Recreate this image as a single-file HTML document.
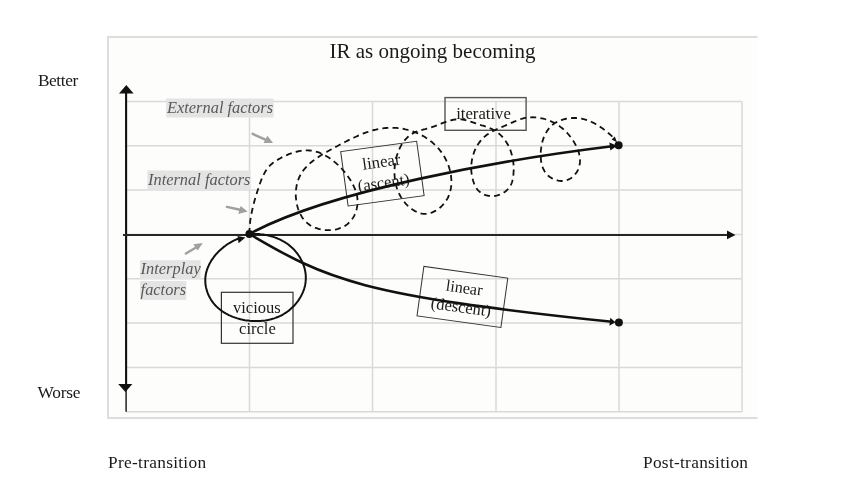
<!DOCTYPE html>
<html><head><meta charset="utf-8"><style>
html,body{margin:0;padding:0;background:#fff;width:841px;height:490px;overflow:hidden}
svg{display:block;will-change:transform}
text{font-family:"Liberation Serif",serif}
</style></head><body>
<svg width="841" height="490" viewBox="0 0 841 490">
<rect x="107" y="36" width="650" height="383" fill="#fdfdfc"/>
<path d="M108,419 V37 H757.5" fill="none" stroke="#dddddd" stroke-width="2"/>
<line x1="107" y1="418" x2="757.5" y2="418" stroke="#dddddd" stroke-width="2"/>
<g stroke="#d9d9d9" stroke-width="1.5"><line x1="249.5" y1="101.5" x2="249.5" y2="411.7"/><line x1="372.5" y1="101.5" x2="372.5" y2="411.7"/><line x1="496" y1="101.5" x2="496" y2="411.7"/><line x1="619" y1="101.5" x2="619" y2="411.7"/><line x1="742" y1="101.5" x2="742" y2="411.7"/><line x1="126" y1="101.5" x2="742" y2="101.5"/><line x1="126" y1="145.8" x2="742" y2="145.8"/><line x1="126" y1="190.1" x2="742" y2="190.1"/><line x1="126" y1="234.5" x2="742" y2="234.5"/><line x1="126" y1="278.8" x2="742" y2="278.8"/><line x1="126" y1="323.0" x2="742" y2="323.0"/><line x1="126" y1="367.4" x2="742" y2="367.4"/><line x1="126" y1="411.7" x2="742" y2="411.7"/></g>
<text x="329.5" y="58.1" font-size="21" fill="#1a1a1a">IR as ongoing becoming</text>
<text x="37.9" y="85.8" font-size="17.33" letter-spacing="-0.4" fill="#1a1a1a">Better</text>
<text x="37.5" y="397.5" font-size="17.33" letter-spacing="-0.2" fill="#1a1a1a">Worse</text>
<text x="108" y="467.8" font-size="17.33" letter-spacing="0.29" fill="#1a1a1a">Pre-transition</text>
<text x="643" y="467.9" font-size="17.33" letter-spacing="0.28" fill="#1a1a1a">Post-transition</text>
<!-- y axis -->
<line x1="126.1" y1="92" x2="126.1" y2="386" stroke="#111" stroke-width="2.1"/>
<line x1="126.1" y1="390" x2="126.1" y2="411.7" stroke="#111" stroke-width="1.4"/>
<polygon points="126.3,85 119,93.5 133.6,93.5" fill="#111"/>
<polygon points="118.2,384 132.4,384 125.4,392" fill="#111"/>
<!-- x axis -->
<line x1="123" y1="235" x2="729" y2="235" stroke="#262626" stroke-width="2"/>
<polygon points="727,230.5 735.5,235 727,239.3" fill="#111"/>
<!-- labels with bg -->
<rect x="166.2" y="98.5" width="107.4" height="19" fill="#e4e4e4"/>
<text x="167" y="112.9" font-size="16.4" font-style="italic" fill="#595959">External factors</text>
<rect x="147.4" y="170.5" width="103.3" height="19.6" fill="#e4e4e4"/>
<text x="148" y="185" font-size="16.4" font-style="italic" fill="#595959">Internal factors</text>
<rect x="140.1" y="260.2" width="60.5" height="18.8" fill="#e4e4e4"/>
<text x="140.6" y="274.4" font-size="16.4" font-style="italic" fill="#595959">Interplay</text>
<rect x="140.1" y="281" width="46.2" height="18.9" fill="#e4e4e4"/>
<text x="140.6" y="295.3" font-size="16.4" font-style="italic" fill="#595959">factors</text>
<!-- gray arrows -->
<g stroke="#a0a0a0" stroke-width="2.5" stroke-linecap="round" fill="#a0a0a0">
<line x1="252.6" y1="133.9" x2="266" y2="139.8"/>
<line x1="226.9" y1="206.9" x2="240" y2="209.8"/>
<line x1="185.9" y1="253.5" x2="196" y2="247.5"/>
</g>
<g fill="#a0a0a0">
<polygon points="273.1,143.1 267.4,135.7 263.6,143.1"/>
<polygon points="247.6,211.5 240.6,206.1 238.2,213.9"/>
<polygon points="202.8,243.1 193.4,244.3 197.6,250.5"/>
</g>
<!-- boxes -->
<rect x="221.4" y="292.3" width="71.6" height="51" fill="none" stroke="#333" stroke-width="1.2"/>
<text x="233" y="313.1" font-size="16.5" fill="#1a1a1a">vicious</text>
<text x="239.1" y="333.9" font-size="16.5" fill="#1a1a1a">circle</text>
<rect x="445" y="97.6" width="81.1" height="32.7" fill="none" stroke="#555" stroke-width="1.4"/>
<text x="456.2" y="118.5" font-size="16.7" fill="#1a1a1a">iterative</text>
<g transform="translate(382.4,173.65) rotate(-7.8)">
<rect x="-38.35" y="-27.45" width="76.7" height="54.9" fill="none" stroke="#333" stroke-width="1"/>
<text x="0.5" y="-6.6" font-size="16.8" text-anchor="middle" fill="#1a1a1a">linear</text>
<text x="0" y="14.3" font-size="16.5" text-anchor="middle" fill="#1a1a1a">(ascent)</text>
</g>
<g transform="translate(462.4,296.95) rotate(7.94)">
<rect x="-42.35" y="-24.95" width="84.7" height="49.9" fill="none" stroke="#333" stroke-width="1"/>
<text x="0.6" y="-4" font-size="16.2" text-anchor="middle" fill="#1a1a1a">linear</text>
<text x="0" y="15.5" font-size="16.5" text-anchor="middle" fill="#1a1a1a">(descent)</text>
</g>
<!-- curves -->
<path d="M249.3,234.0 L249.3,232.5 L249.4,230.9 L249.5,229.4 L249.6,227.9 L249.7,226.4 L249.8,224.9 L250.0,223.4 L250.1,221.9 L250.3,220.4 L250.5,218.9 L250.8,217.5 L251.0,216.0 L251.3,214.5 L251.6,213.1 L251.9,211.6 L252.2,210.2 L252.5,208.7 L252.8,207.3 L253.2,205.8 L253.5,204.4 L253.9,203.0 L254.3,201.5 L254.7,200.1 L255.1,198.7 L255.5,197.2 L256.0,195.8 L256.4,194.3 L256.9,192.9 L257.3,191.5 L257.8,190.0 L258.3,188.6 L258.7,187.1 L259.2,185.7 L259.7,184.2 L260.2,182.8 L260.8,181.3 L261.3,179.9 L261.9,178.5 L262.5,177.1 L263.1,175.7 L263.8,174.4 L264.5,173.1 L265.2,171.8 L266.0,170.5 L266.8,169.3 L267.7,168.2 L268.6,167.0 L269.6,166.0 L270.6,164.9 L271.7,164.0 L272.8,163.0 L274.0,162.1 L275.2,161.3 L276.5,160.5 L277.8,159.7 L279.1,158.9 L280.4,158.2 L281.8,157.4 L283.2,156.7 L284.5,156.1 L285.9,155.4 L287.4,154.8 L288.8,154.2 L290.2,153.7 L291.7,153.1 L293.1,152.7 L294.6,152.2 L296.1,151.8 L297.5,151.5 L299.0,151.2 L300.5,150.9 L302.0,150.7 L303.5,150.5 L305.0,150.4 L306.4,150.4 L307.9,150.4 L309.4,150.5 L310.8,150.6 L312.3,150.8 L313.7,151.1 L315.1,151.4 L316.6,151.8 L318.0,152.2 L319.4,152.7 L320.7,153.3 L322.1,153.9 L323.5,154.6 L324.8,155.3 L326.1,156.0 L327.4,156.8 L328.7,157.6 L330.0,158.4 L331.2,159.3 L332.4,160.2 L333.6,161.2 L334.8,162.1 L336.0,163.1 L337.1,164.1 L338.2,165.1 L339.3,166.2 L340.4,167.3 L341.4,168.3 L342.4,169.5 L343.4,170.6 L344.4,171.7 L345.3,172.9 L346.2,174.1 L347.1,175.3 L348.0,176.5 L348.8,177.7 L349.7,179.0 L350.5,180.3 L351.2,181.6 L352.0,182.9 L352.7,184.2 L353.4,185.5 L354.0,186.9 L354.6,188.2 L355.2,189.6 L355.7,191.0 L356.2,192.5 L356.6,193.9 L356.9,195.3 L357.2,196.8 L357.4,198.3 L357.5,199.8 L357.6,201.3 L357.6,202.9 L357.5,204.4 L357.3,205.9 L357.0,207.4 L356.7,208.9 L356.3,210.4 L355.8,211.9 L355.3,213.3 L354.7,214.7 L354.0,216.1 L353.3,217.4 L352.4,218.7 L351.6,219.9 L350.6,221.1 L349.6,222.2 L348.5,223.2 L347.4,224.2 L346.2,225.0 L344.9,225.9 L343.6,226.6 L342.3,227.3 L340.9,227.9 L339.4,228.4 L338.0,228.9 L336.5,229.3 L335.0,229.6 L333.4,229.8 L331.9,230.0 L330.3,230.2 L328.7,230.2 L327.2,230.2 L325.6,230.1 L324.0,230.0 L322.5,229.7 L320.9,229.5 L319.4,229.1 L317.9,228.7 L316.5,228.2 L315.0,227.7 L313.6,227.1 L312.3,226.4 L310.9,225.7 L309.7,224.9 L308.5,224.0 L307.3,223.1 L306.2,222.1 L305.2,221.1 L304.2,220.0 L303.3,218.9 L302.4,217.7 L301.6,216.4 L300.9,215.1 L300.2,213.8 L299.6,212.5 L299.0,211.1 L298.4,209.6 L297.9,208.2 L297.5,206.7 L297.1,205.2 L296.8,203.7 L296.5,202.2 L296.2,200.7 L296.1,199.1 L295.9,197.6 L295.8,196.0 L295.8,194.5 L295.8,192.9 L295.9,191.4 L296.0,189.8 L296.2,188.3 L296.4,186.8 L296.7,185.3 L297.0,183.8 L297.4,182.3 L297.9,180.9 L298.4,179.5 L298.9,178.1 L299.5,176.7 L300.2,175.4 L300.9,174.1 L301.7,172.8 L302.5,171.6 L303.3,170.4 L304.2,169.3 L305.2,168.2 L306.2,167.1 L307.2,166.0 L308.3,165.0 L309.4,163.9 L310.5,162.9 L311.6,162.0 L312.8,161.0 L314.0,160.1 L315.2,159.2 L316.4,158.3 L317.7,157.5 L318.9,156.7 L320.2,155.8 L321.5,155.0 L322.8,154.2 L324.0,153.5 L325.3,152.7 L326.6,152.0 L327.9,151.2 L329.2,150.5 L330.5,149.8 L331.8,149.1 L333.1,148.4 L334.4,147.6 L335.7,146.9 L337.1,146.2 L338.4,145.5 L339.7,144.8 L341.0,144.1 L342.4,143.4 L343.7,142.7 L345.0,142.0 L346.4,141.3 L347.7,140.6 L349.1,139.9 L350.5,139.3 L351.8,138.6 L353.2,137.9 L354.6,137.3 L355.9,136.7 L357.3,136.1 L358.7,135.4 L360.1,134.9 L361.5,134.3 L362.9,133.7 L364.3,133.2 L365.7,132.7 L367.1,132.2 L368.5,131.7 L369.9,131.3 L371.4,130.8 L372.8,130.4 L374.2,130.0 L375.7,129.7 L377.1,129.3 L378.6,129.0 L380.0,128.8 L381.5,128.5 L382.9,128.3 L384.4,128.1 L385.9,128.0 L387.4,127.9 L388.8,127.8 L390.3,127.7 L391.8,127.7 L393.3,127.8 L394.8,127.8 L396.3,127.9 L397.8,128.1 L399.3,128.2 L400.8,128.4 L402.3,128.7 L403.8,128.9 L405.3,129.3 L406.7,129.6 L408.2,130.0 L409.7,130.4 L411.1,130.8 L412.6,131.3 L414.0,131.8 L415.4,132.4 L416.8,132.9 L418.2,133.5 L419.6,134.2 L420.9,134.9 L422.3,135.6 L423.6,136.3 L424.9,137.1 L426.2,137.9 L427.4,138.7 L428.7,139.6 L429.9,140.4 L431.0,141.4 L432.2,142.3 L433.3,143.3 L434.4,144.3 L435.5,145.3 L436.5,146.4 L437.6,147.5 L438.6,148.6 L439.5,149.8 L440.4,150.9 L441.3,152.1 L442.2,153.3 L443.0,154.6 L443.8,155.9 L444.6,157.1 L445.3,158.5 L446.0,159.8 L446.6,161.2 L447.3,162.5 L447.8,163.9 L448.4,165.4 L448.9,166.8 L449.3,168.3 L449.8,169.7 L450.1,171.2 L450.5,172.7 L450.7,174.2 L451.0,175.7 L451.1,177.2 L451.3,178.7 L451.4,180.2 L451.4,181.7 L451.4,183.2 L451.3,184.7 L451.2,186.2 L451.0,187.7 L450.7,189.1 L450.4,190.6 L450.1,192.0 L449.6,193.4 L449.1,194.8 L448.6,196.2 L448.0,197.5 L447.3,198.9 L446.5,200.1 L445.7,201.4 L444.8,202.6 L443.8,203.8 L442.8,205.0 L441.7,206.1 L440.5,207.2 L439.3,208.2 L438.0,209.2 L436.6,210.1 L435.3,210.9 L433.8,211.6 L432.4,212.3 L430.9,212.8 L429.5,213.2 L428.0,213.6 L426.5,213.8 L425.0,213.8 L423.5,213.8 L422.0,213.6 L420.6,213.3 L419.2,212.9 L417.8,212.4 L416.4,211.7 L415.0,211.1 L413.7,210.3 L412.4,209.5 L411.1,208.6 L409.9,207.6 L408.8,206.6 L407.6,205.6 L406.6,204.5 L405.5,203.4 L404.6,202.3 L403.6,201.1 L402.8,199.9 L401.9,198.6 L401.1,197.4 L400.4,196.1 L399.7,194.8 L399.0,193.4 L398.4,192.0 L397.8,190.7 L397.3,189.3 L396.8,187.8 L396.4,186.4 L396.0,184.9 L395.7,183.5 L395.4,182.0 L395.1,180.5 L394.9,179.0 L394.7,177.5 L394.6,175.9 L394.5,174.4 L394.5,172.9 L394.5,171.3 L394.5,169.8 L394.6,168.3 L394.7,166.7 L394.9,165.2 L395.1,163.7 L395.3,162.2 L395.6,160.7 L396.0,159.2 L396.3,157.7 L396.7,156.2 L397.2,154.7 L397.7,153.3 L398.2,151.8 L398.7,150.4 L399.4,149.0 L400.0,147.7 L400.7,146.3 L401.4,145.0 L402.2,143.8 L403.0,142.5 L403.9,141.3 L404.8,140.2 L405.8,139.1 L406.8,138.0 L407.8,137.0 L408.9,136.1 L410.0,135.2 L411.2,134.4 L412.4,133.6 L413.7,132.9 L415.0,132.2 L416.4,131.7 L417.8,131.1 L419.3,130.7 L420.8,130.2 L422.3,129.8 L423.8,129.4 L425.3,129.1 L426.8,128.7 L428.3,128.3 L429.8,127.8 L431.2,127.4 L432.7,126.9 L434.1,126.4 L435.5,125.9 L436.9,125.3 L438.3,124.8 L439.7,124.2 L441.0,123.7 L442.4,123.1 L443.8,122.6 L445.2,122.1 L446.6,121.6 L448.0,121.1 L449.5,120.7 L450.9,120.3 L452.4,120.0 L453.9,119.7 L455.4,119.5 L456.8,119.3 L458.3,119.3 L459.8,119.3 L461.3,119.4 L462.7,119.6 L464.2,119.9 L465.6,120.2 L467.1,120.6 L468.5,121.0 L470.0,121.5 L471.4,121.9 L472.9,122.4 L474.3,122.9 L475.8,123.4 L477.2,123.9 L478.7,124.4 L480.1,124.8 L481.6,125.3 L483.1,125.7 L484.5,126.2 L485.9,126.7 L487.4,127.2 L488.8,127.7 L490.2,128.3 L491.5,128.9 L492.8,129.5 L494.1,130.3 L495.4,131.0 L496.7,131.9 L497.9,132.7 L499.0,133.7 L500.1,134.7 L501.2,135.7 L502.3,136.8 L503.2,137.9 L504.2,139.0 L505.1,140.2 L505.9,141.5 L506.7,142.7 L507.5,144.0 L508.2,145.3 L508.9,146.6 L509.5,148.0 L510.1,149.4 L510.6,150.8 L511.1,152.2 L511.5,153.7 L511.9,155.1 L512.3,156.6 L512.6,158.1 L512.9,159.6 L513.1,161.1 L513.3,162.6 L513.5,164.2 L513.6,165.7 L513.6,167.2 L513.7,168.7 L513.7,170.3 L513.6,171.8 L513.5,173.3 L513.4,174.8 L513.2,176.3 L513.0,177.8 L512.7,179.3 L512.4,180.7 L512.0,182.2 L511.5,183.5 L510.9,184.9 L510.2,186.2 L509.4,187.4 L508.5,188.6 L507.4,189.7 L506.3,190.8 L505.1,191.7 L503.8,192.6 L502.5,193.4 L501.1,194.1 L499.6,194.7 L498.1,195.2 L496.6,195.6 L495.0,195.9 L493.5,196.1 L491.9,196.1 L490.3,196.0 L488.8,195.8 L487.2,195.5 L485.7,195.1 L484.3,194.6 L482.9,193.9 L481.6,193.2 L480.3,192.3 L479.2,191.4 L478.1,190.3 L477.1,189.2 L476.3,188.0 L475.5,186.7 L474.8,185.3 L474.2,183.9 L473.7,182.5 L473.2,181.0 L472.8,179.6 L472.4,178.1 L472.1,176.6 L471.8,175.1 L471.6,173.7 L471.4,172.2 L471.3,170.7 L471.2,169.2 L471.2,167.7 L471.3,166.2 L471.3,164.7 L471.5,163.2 L471.7,161.7 L471.9,160.2 L472.2,158.7 L472.6,157.2 L473.0,155.7 L473.4,154.2 L473.9,152.7 L474.4,151.3 L475.0,149.9 L475.7,148.5 L476.4,147.2 L477.1,145.8 L477.9,144.5 L478.7,143.3 L479.6,142.1 L480.5,140.9 L481.4,139.7 L482.5,138.7 L483.5,137.6 L484.6,136.6 L485.7,135.7 L486.9,134.8 L488.1,134.0 L489.3,133.2 L490.6,132.4 L491.9,131.7 L493.2,131.0 L494.6,130.3 L495.9,129.6 L497.3,129.0 L498.7,128.4 L500.1,127.8 L501.5,127.2 L502.9,126.6 L504.3,126.0 L505.7,125.4 L507.1,124.8 L508.5,124.2 L509.9,123.5 L511.3,122.9 L512.7,122.3 L514.1,121.7 L515.5,121.1 L516.8,120.5 L518.2,120.0 L519.6,119.4 L521.0,119.0 L522.5,118.6 L523.9,118.2 L525.3,117.9 L526.8,117.6 L528.3,117.4 L529.8,117.3 L531.3,117.3 L532.8,117.2 L534.3,117.3 L535.8,117.4 L537.3,117.5 L538.8,117.7 L540.3,118.0 L541.8,118.3 L543.2,118.6 L544.7,119.0 L546.1,119.5 L547.5,119.9 L548.9,120.4 L550.3,121.0 L551.6,121.6 L552.9,122.2 L554.3,122.9 L555.5,123.6 L556.8,124.4 L558.0,125.2 L559.3,126.0 L560.4,126.9 L561.6,127.8 L562.8,128.7 L563.9,129.7 L565.0,130.7 L566.0,131.8 L567.1,132.8 L568.1,134.0 L569.1,135.1 L570.0,136.3 L571.0,137.5 L571.9,138.8 L572.8,140.1 L573.6,141.4 L574.4,142.7 L575.2,144.1 L575.9,145.5 L576.6,146.9 L577.2,148.3 L577.8,149.7 L578.3,151.2 L578.8,152.6 L579.2,154.1 L579.5,155.6 L579.7,157.1 L579.9,158.5 L580.0,160.0 L580.0,161.4 L579.9,162.9 L579.7,164.3 L579.4,165.7 L579.1,167.1 L578.6,168.5 L578.0,169.9 L577.3,171.2 L576.5,172.4 L575.6,173.7 L574.6,174.8 L573.6,175.9 L572.5,176.9 L571.3,177.9 L570.0,178.7 L568.7,179.4 L567.3,180.0 L565.9,180.5 L564.4,180.8 L562.9,181.0 L561.3,181.0 L559.8,180.9 L558.2,180.6 L556.6,180.2 L555.1,179.7 L553.6,179.1 L552.1,178.4 L550.8,177.5 L549.5,176.7 L548.3,175.7 L547.2,174.7 L546.2,173.6 L545.4,172.4 L544.6,171.3 L543.9,170.0 L543.2,168.7 L542.7,167.4 L542.2,166.0 L541.8,164.7 L541.5,163.2 L541.2,161.8 L541.0,160.3 L540.9,158.8 L540.8,157.3 L540.7,155.7 L540.7,154.2 L540.7,152.6 L540.8,151.1 L541.0,149.5 L541.2,148.0 L541.4,146.4 L541.7,144.9 L542.0,143.3 L542.4,141.8 L542.8,140.3 L543.3,138.9 L543.8,137.4 L544.4,136.0 L545.0,134.7 L545.7,133.3 L546.5,132.0 L547.2,130.8 L548.1,129.6 L549.0,128.4 L549.9,127.3 L550.9,126.3 L552.0,125.3 L553.1,124.4 L554.2,123.5 L555.4,122.8 L556.7,122.1 L558.0,121.4 L559.4,120.8 L560.8,120.3 L562.2,119.8 L563.6,119.4 L565.1,119.0 L566.6,118.7 L568.2,118.5 L569.7,118.2 L571.2,118.1 L572.8,118.0 L574.3,118.0 L575.8,118.0 L577.3,118.1 L578.8,118.2 L580.3,118.4 L581.8,118.7 L583.2,119.0 L584.6,119.4 L586.1,119.8 L587.5,120.3 L588.9,120.8 L590.2,121.4 L591.6,122.0 L593.0,122.6 L594.3,123.3 L595.6,124.0 L596.9,124.7 L598.2,125.5 L599.5,126.3 L600.7,127.2 L602.0,128.1 L603.2,128.9 L604.4,129.9 L605.6,130.8 L606.8,131.8 L607.9,132.7 L609.1,133.7 L610.2,134.7 L611.3,135.7 L612.4,136.7 L613.4,137.8 L614.5,138.8" fill="none" stroke="#111" stroke-width="1.8" stroke-dasharray="6 4.2"/>
<path d="M250.1,234.2 L251.6,234.1 L253.0,234.0 L254.5,234.0 L256.0,234.0 L257.5,234.1 L259.0,234.1 L260.5,234.3 L262.1,234.4 L263.6,234.6 L265.1,234.9 L266.6,235.1 L268.1,235.5 L269.6,235.8 L271.0,236.2 L272.5,236.6 L274.0,237.1 L275.4,237.6 L276.9,238.2 L278.3,238.8 L279.7,239.4 L281.1,240.1 L282.4,240.8 L283.8,241.5 L285.1,242.3 L286.3,243.2 L287.6,244.0 L288.8,244.9 L290.0,245.9 L291.2,246.9 L292.3,247.9 L293.4,249.0 L294.5,250.1 L295.5,251.3 L296.5,252.5 L297.4,253.7 L298.3,255.0 L299.2,256.2 L300.0,257.5 L300.7,258.9 L301.4,260.2 L302.1,261.6 L302.7,263.0 L303.3,264.4 L303.8,265.8 L304.3,267.3 L304.7,268.7 L305.0,270.2 L305.3,271.6 L305.5,273.1 L305.7,274.6 L305.8,276.0 L305.8,277.5 L305.8,278.9 L305.7,280.4 L305.6,281.9 L305.4,283.3 L305.2,284.7 L304.9,286.2 L304.5,287.6 L304.1,289.0 L303.6,290.4 L303.1,291.7 L302.5,293.1 L301.9,294.4 L301.2,295.8 L300.5,297.0 L299.7,298.3 L298.9,299.6 L298.1,300.8 L297.2,302.0 L296.3,303.2 L295.3,304.3 L294.3,305.5 L293.3,306.6 L292.2,307.6 L291.1,308.6 L290.0,309.6 L288.8,310.6 L287.6,311.5 L286.4,312.4 L285.1,313.2 L283.8,314.0 L282.5,314.8 L281.2,315.5 L279.8,316.1 L278.4,316.8 L277.0,317.3 L275.6,317.9 L274.2,318.4 L272.7,318.8 L271.2,319.2 L269.8,319.6 L268.3,319.9 L266.8,320.2 L265.2,320.5 L263.7,320.7 L262.2,320.8 L260.6,321.0 L259.1,321.0 L257.5,321.1 L256.0,321.1 L254.4,321.1 L252.8,321.0 L251.3,320.9 L249.7,320.8 L248.1,320.6 L246.6,320.4 L245.0,320.2 L243.5,319.9 L242.0,319.6 L240.4,319.2 L238.9,318.8 L237.4,318.4 L235.9,317.9 L234.5,317.4 L233.0,316.9 L231.6,316.3 L230.2,315.7 L228.8,315.1 L227.5,314.4 L226.1,313.7 L224.8,312.9 L223.5,312.1 L222.3,311.3 L221.1,310.4 L219.9,309.5 L218.7,308.6 L217.6,307.6 L216.6,306.6 L215.5,305.5 L214.5,304.4 L213.6,303.3 L212.7,302.1 L211.8,300.9 L211.0,299.7 L210.3,298.4 L209.5,297.1 L208.9,295.8 L208.3,294.5 L207.7,293.1 L207.2,291.7 L206.8,290.3 L206.4,288.9 L206.0,287.4 L205.8,286.0 L205.5,284.6 L205.4,283.1 L205.3,281.6 L205.3,280.2 L205.3,278.7 L205.4,277.3 L205.6,275.8 L205.8,274.4 L206.1,273.0 L206.5,271.5 L206.9,270.1 L207.4,268.7 L207.9,267.3 L208.5,266.0 L209.1,264.6 L209.8,263.3 L210.6,261.9 L211.3,260.6 L212.2,259.3 L213.1,258.1 L214.0,256.8 L214.9,255.6 L215.9,254.4 L217.0,253.3 L218.0,252.1 L219.1,251.0 L220.3,249.9 L221.4,248.9 L222.6,247.9 L223.8,246.9 L225.1,246.0 L226.3,245.0 L227.6,244.2 L228.9,243.3 L230.2,242.6 L231.5,241.8 L232.8,241.1 L234.2,240.4 L235.5,239.8 L236.9,239.2 L238.3,238.7 L239.6,238.2 L241.0,237.8" fill="none" stroke="#111" stroke-width="2"/>
<polygon points="245.4,237.5 237.5,236 238.6,243.2" fill="#111"/>
<path d="M249.3,234 C329.6,190.3 500.9,159.9 612,146.3" fill="none" stroke="#111" stroke-width="2.6"/>
<path d="M249.5,234 C327.2,279.7 359.5,295.4 612,321.8" fill="none" stroke="#111" stroke-width="2.6"/>
<polygon points="617,145.8 609.4,142.6 610.3,150.5" fill="#111"/>
<polygon points="615.5,322.2 610.3,317.8 609.4,325.8" fill="#111"/>
<polygon points="617,142.2 611.6,139.6 614.8,136.4" fill="#111"/>
<circle cx="249.3" cy="234" r="3.9" fill="#111"/>
<circle cx="618.6" cy="145.3" r="4" fill="#111"/>
<circle cx="618.9" cy="322.4" r="4" fill="#111"/>
</svg>
</body></html>
